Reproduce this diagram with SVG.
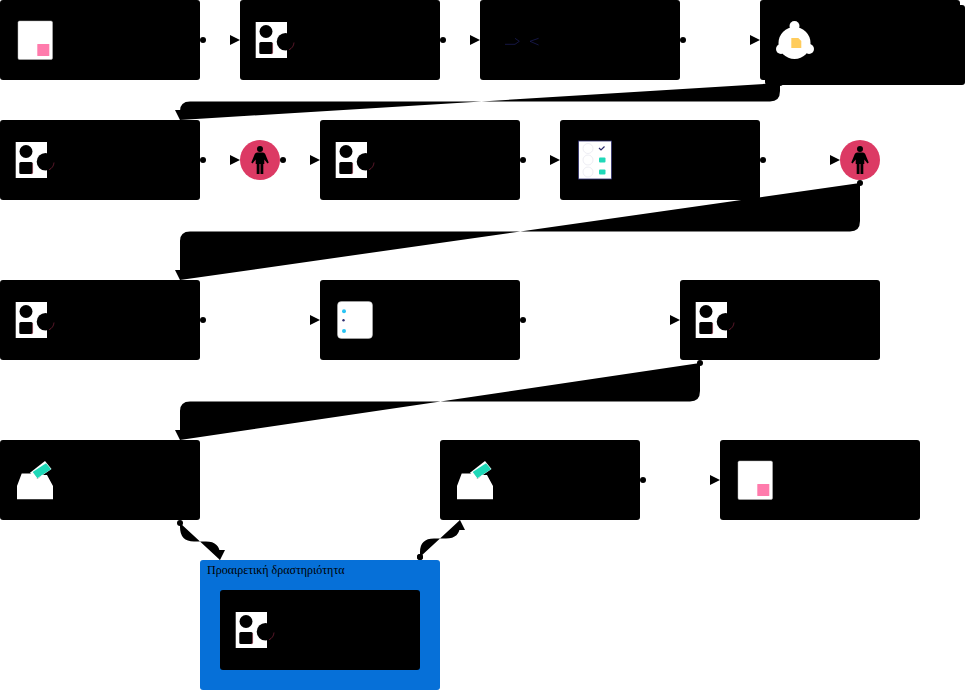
<svg xmlns="http://www.w3.org/2000/svg" width="967" height="692" viewBox="0 0 967 692">
  <style>
    .box { fill: #000; }
    .white { fill: #fff; }
    .edge { fill: #000; stroke: none; marker-start: url(#dot); marker-end: url(#tip); }
    .person-bg { fill: #dc3a64; }
    .teal { fill: #1fd8b8; }
    .face { fill: none; stroke: #e8e8f0; stroke-width: 0.8; }
    .label { font-family: "Liberation Serif", "Times New Roman", serif; font-size: 12px; fill: #000; }
  </style>
  <defs>
    <marker id="dot" markerUnits="userSpaceOnUse" markerWidth="8" markerHeight="8" refX="4" refY="4" orient="auto"><circle cx="4" cy="4" r="3" fill="#000"/></marker>
    <marker id="tip" markerUnits="userSpaceOnUse" markerWidth="12" markerHeight="12" refX="10" refY="5" orient="auto"><path d="M0,0L10,5L0,10Z" fill="#000"/></marker>
    <g id="i-doc">
      <rect x="18" y="21" width="34.500" height="38.500" rx="1.500" fill="#fff" stroke="#bbb" stroke-width="0.500"/>
      <rect x="37.300" y="44" width="12" height="12" rx="0.500" fill="#ff7bac"/>
    </g>
    <g id="i-shapes">
      <rect x="15.700" y="22" width="31.300" height="36" fill="#fff"/>
      <circle cx="26" cy="31.500" r="6.500" fill="#000"/>
      <rect x="19.300" y="42" width="13.400" height="12" rx="1.500" fill="#000"/>
      <path d="M32.700,43.500V52.500Q32.700,54 31,54" fill="none" stroke="#dc3a64" stroke-width="0.400"/>
      <circle cx="45.500" cy="41.700" r="8.800" fill="#000"/>
      <path d="M54,42.500A8.800,8.800 0 0 1 49,49.800" fill="none" stroke="#dc3a64" stroke-width="0.400"/>
    </g>
    <g id="i-ballot">
      <path d="M30,32.700L45,21L51.500,29L37,39Z" fill="#fff"/>
      <path d="M32.700,32L46,23.300L51,29.300L37.300,38.300Z" fill="#1fd8b8"/>
      <path d="M17,46L21.700,33.500H33L37.300,39L42,35H47L53,46V59.300H17Z" fill="#fff"/>
    </g>
    <g id="i-person">
      <path d="M-3,-11A3,3 0 1 1 3,-11A3,3 0 1 1 -3,-11ZM-3,-7.500H3Q4.500,-7.500 5.200,-6L8.700,2.500L7.500,3.500L4.300,-0.500V4H3.300V14H0.500V4H-0.500V14H-3.300V4H-4.300V-0.500L-7.500,3.500L-8.700,2.500L-5.200,-6Q-4.500,-7.500 -3,-7.500Z" fill="#000"/>
    </g>
  </defs>

  <g id="connectors">
    <path class="edge" d="M203,40L240,40"/>
    <path class="edge" d="M443,40L480,40"/>
    <path class="edge" d="M683,40L760,40"/>
    <path class="edge" d="M780,83V91Q780,101.500 770,101.500H190Q180,101.500 180,111V120"/>
    <path class="edge" d="M203,160L240,160"/>
    <path class="edge" d="M283,160L320,160"/>
    <path class="edge" d="M523,160L560,160"/>
    <path class="edge" d="M763,160L840,160"/>
    <path class="edge" d="M860,183V221Q860,231.500 850,231.500H190Q180,231.500 180,241V280"/>
    <path class="edge" d="M203,320L320,320"/>
    <path class="edge" d="M523,320L680,320"/>
    <path class="edge" d="M700,363V391Q700,401.500 690,401.500H190Q180,401.500 180,411V440"/>
    <path class="edge" d="M643,480L720,480"/>
    <path class="edge" d="M180,523V527Q180,541.500 194,541.500H206Q220,541.500 220,555V560"/>
    <path class="edge" d="M420,557V552Q420,538.500 434,538.500H446Q460,538.500 460,525V520"/>
  </g>

  <g id="n1" transform="translate(0,0)"><rect class="box" width="200" height="80" rx="3"/><use href="#i-doc"/></g>
  <g id="n2" transform="translate(240,0)"><rect class="box" width="200" height="80" rx="3"/><use href="#i-shapes"/></g>
  <g id="n3" transform="translate(480,0)"><rect class="box" width="200" height="80" rx="3"/>
    <path d="M25,44.300H35L39.300,41.300L35,38.300M58.600,38.300L50,41.300L58.600,45" fill="none" stroke="#1e2060" stroke-width="0.700"/>
  </g>
  <g id="n4" transform="translate(760,0)">
    <rect class="box" width="200" height="80" rx="3"/>
    <rect class="box" x="5" y="5" width="200" height="80" rx="3"/>
    <circle class="white" cx="34.500" cy="26" r="5"/>
    <circle class="white" cx="34.500" cy="43" r="16"/>
    <circle class="white" cx="21" cy="49" r="5"/>
    <circle class="white" cx="49" cy="49" r="5"/>
    <path d="M31.300,38H38.300L41.300,41V48H31.300Z" fill="#ffcc5c"/>
  </g>

  <g id="n5" transform="translate(0,120)"><rect class="box" width="200" height="80" rx="3"/><use href="#i-shapes"/></g>
  <g id="n6" transform="translate(260,160)"><circle class="person-bg" r="20"/><use href="#i-person"/></g>
  <g id="n7" transform="translate(320,120)"><rect class="box" width="200" height="80" rx="3"/><use href="#i-shapes"/></g>
  <g id="n8" transform="translate(560,120)"><rect class="box" width="200" height="80" rx="3"/>
    <rect x="18.500" y="21" width="33" height="38" fill="#fff" stroke="#2f2e6e" stroke-width="0.800"/>
    <circle class="face" cx="28" cy="28.500" r="5"/>
    <circle class="face" cx="28" cy="40" r="5"/>
    <circle class="face" cx="28" cy="52" r="5"/>
    <path d="M39,28L41,30L44.500,26.500" fill="none" stroke="#2f2e6e" stroke-width="1.200"/>
    <rect class="teal" x="39" y="37.500" width="6.500" height="5" rx="1"/>
    <rect class="teal" x="39" y="49.500" width="6.500" height="5" rx="1"/>
  </g>
  <g id="n9" transform="translate(860,160)"><circle class="person-bg" r="20"/><use href="#i-person"/></g>

  <g id="n10" transform="translate(0,280)"><rect class="box" width="200" height="80" rx="3"/><use href="#i-shapes"/></g>
  <g id="n11" transform="translate(320,280)"><rect class="box" width="200" height="80" rx="3"/>
    <rect x="17.500" y="21.500" width="35" height="37" rx="4" fill="#fff" stroke="#bbb" stroke-width="0.500"/>
    <circle cx="24" cy="31.300" r="2" fill="#2ac4f4"/>
    <circle cx="23.500" cy="40.300" r="1.200" fill="#2f2e6e"/>
    <circle cx="24" cy="51" r="2" fill="#2ac4f4"/>
  </g>
  <g id="n12" transform="translate(680,280)"><rect class="box" width="200" height="80" rx="3"/><use href="#i-shapes"/></g>

  <g id="n13" transform="translate(0,440)"><rect class="box" width="200" height="80" rx="3"/><use href="#i-ballot"/></g>
  <g id="n14" transform="translate(440,440)"><rect class="box" width="200" height="80" rx="3"/><use href="#i-ballot"/></g>
  <g id="n15" transform="translate(720,440)"><rect class="box" width="200" height="80" rx="3"/><use href="#i-doc"/></g>

  <g id="group-optional">
    <rect x="200" y="560" width="240" height="130" rx="3" fill="#0670d8"/>
    <text class="label" x="207" y="574">Προαιρετική δραστηριότητα</text>
  </g>
  <g id="n16" transform="translate(220,590)"><rect class="box" width="200" height="80" rx="3"/><use href="#i-shapes"/></g>
  <g id="top-dots"><circle cx="420" cy="557" r="3" fill="#000"/></g>
</svg>
